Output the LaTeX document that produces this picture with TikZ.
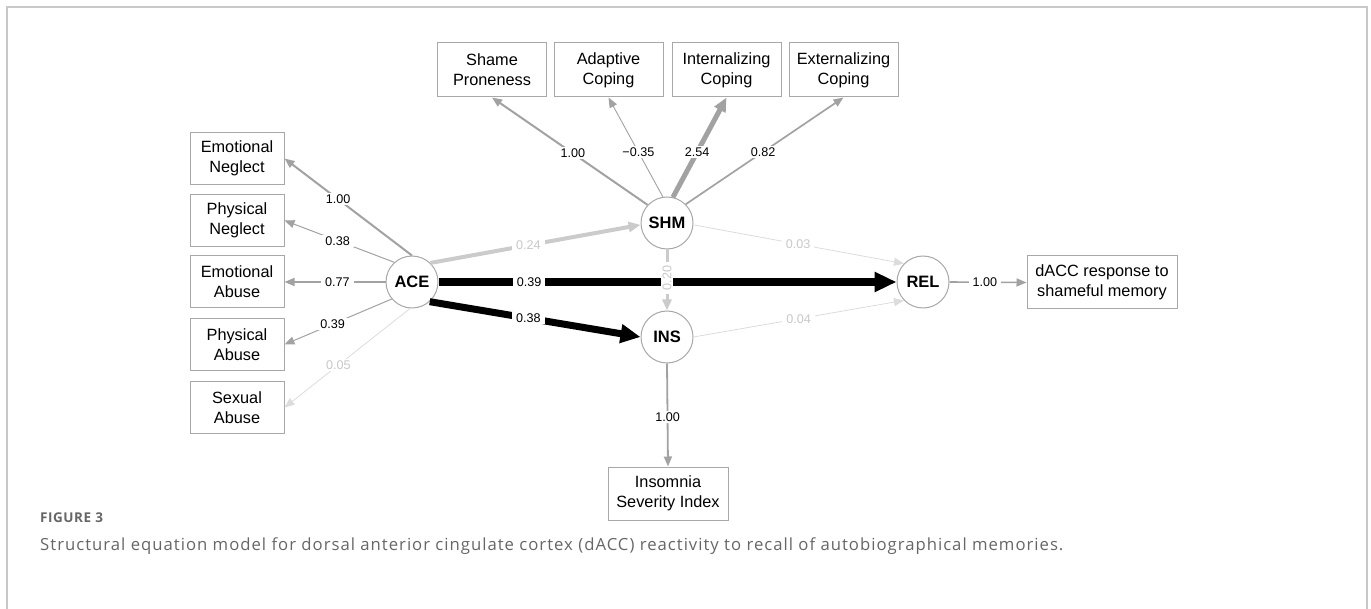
\documentclass[tikz,border=0pt]{standalone}
\usepackage{fontspec}
\setmainfont{Liberation Sans}
\newfontfamily\capfont[LetterSpace=6]{Open Sans}
\newfontfamily\figfont[LetterSpace=4]{Open Sans}
\usetikzlibrary{arrows.meta}
\definecolor{boxgray}{HTML}{A8A8A8}
\definecolor{edgegray}{HTML}{A2A2A2}
\definecolor{edgelight}{HTML}{CBCBCB}
\definecolor{edgefaint}{HTML}{DCDCDC}
\definecolor{lblfaint}{HTML}{C8C8C8}
\definecolor{framegray}{HTML}{C8C8C8}
\definecolor{capgray}{HTML}{666666}
\begin{document}
\begin{tikzpicture}[x=1pt,y=-1pt,
  box/.style={draw=boxgray, line width=1pt, fill=white, align=center, inner sep=0pt,
    font=\fontsize{16.3}{20}\selectfont},
  topbox/.style={box, minimum width=109pt, minimum height=54pt},
  leftbox/.style={box, minimum width=94pt, minimum height=52pt},
  lat/.style={circle, draw=boxgray, line width=1pt, fill=white, minimum size=52pt, inner sep=0pt,
    font=\fontsize{16.5}{18}\selectfont\bfseries},
  lbl/.style={fill=white, text=black, inner xsep=4pt, inner ysep=1.5pt, font=\fontsize{12.6}{13}\selectfont},
  flbl/.style={lbl, text=lblfaint},
  tipA/.style={-{Triangle[length=10pt,width=8pt]}},
  tipB/.style={-{Triangle[length=14pt,width=12pt]}},
  tipC/.style={-{Triangle[length=22pt,width=19pt]}},
]
\useasboundingbox (0,0) rectangle (1371,609);
\draw[framegray, line width=1.5pt] (7,609) -- (7,7) -- (1367,7) -- (1367,609);

% latent variables
\node[lat] (ACE) at (412,282) {ACE};
\node[lat] (SHM) at (667,223) {SHM};
\node[lat] (INS) at (667,337) {INS};
\node[lat] (REL) at (923,282) {REL};

% indicators
\node[topbox] (SP) at (492,70) {Shame\\Proneness};
\node[topbox] (AC) at (608.5,70) {Adaptive\\Coping};
\node[topbox] (IC) at (726.5,70) {Internalizing\\Coping};
\node[topbox] (EC) at (843.5,70) {Externalizing\\Coping};

\node[leftbox] (EN) at (237,158.5) {Emotional\\Neglect};
\node[leftbox] (PN) at (237,220.5) {Physical\\Neglect};
\node[leftbox] (EA) at (237,282) {Emotional\\Abuse};
\node[leftbox] (PA) at (237,344.5) {Physical\\Abuse};
\node[leftbox] (SA) at (237,407.5) {Sexual\\Abuse};

\node[box, minimum width=150pt, minimum height=53pt] (DA) at (1102,282.5) {dACC response to\\shameful memory};
\node[box, minimum width=120pt, minimum height=53pt] (ISI) at (668,493.5) {Insomnia\\Severity Index};

% ACE loadings
\draw[edgegray, line width=2pt, tipA] (ACE.90) -- node[lbl,pos=0.58]{1.00} (EN.east);
\draw[edgegray, line width=1pt, tipA] (ACE.132) -- node[lbl,pos=0.515]{0.38} (PN.east);
\draw[edgegray, line width=1.6pt, tipA] (ACE.180) -- node[lbl,pos=0.476]{0.77} (EA.east);
\draw[edgegray, line width=1pt, tipA] (ACE.220) -- node[lbl,pos=0.55]{0.39} (PA.east);
\draw[edgefaint, line width=0.8pt, tipA] (ACE.266) -- node[flbl,pos=0.572]{0.05} (SA.east);

% SHM loadings
\draw[edgegray, line width=2pt, tipA] (SHM.137) -- node[lbl,pos=0.48]{1.00} (SP.south);
\draw[edgegray, line width=0.9pt, tipA] (SHM.99) -- node[lbl,pos=0.45]{−0.35} (AC.south);
\draw[edgegray, line width=5pt, tipB] (SHM.77) -- node[lbl,pos=0.45]{2.54} (IC.south);
\draw[edgegray, line width=1.7pt, tipA] (SHM.45) -- node[lbl,pos=0.49]{0.82} (EC.south);

% structural paths
\draw[edgelight, line width=4pt, -{Triangle[length=12pt,width=10pt]}] (ACE.46) -- node[flbl,pos=0.466]{0.24} (SHM.184);
\draw[black, line width=8pt, tipC] (ACE.east) -- node[lbl,pos=0.198]{0.39} (REL.west);
\draw[black, line width=7pt, -{Triangle[length=20pt,width=18pt]}] (ACE.312) -- node[lbl,pos=0.468]{0.38} (INS.west);
\draw[edgelight, line width=3pt, -{Triangle[length=11pt,width=9pt]}] (SHM.south) -- node[flbl,pos=0.47,rotate=90]{0.20} (INS.north);
\draw[edgefaint, line width=0.8pt, tipA] (SHM.356) -- node[flbl,pos=0.497]{0.03} (REL.136);
\draw[edgefaint, line width=0.8pt, tipA] (INS.0) -- node[flbl,pos=0.5]{0.04} (REL.224);

% outcome indicators
\draw[edgegray, line width=1.6pt, tipA] (REL.east) -- node[lbl,pos=0.46]{1.00} (DA.west);
\draw[edgegray, line width=1.8pt, tipA] (INS.south) -- node[lbl,pos=0.52]{1.00} (ISI.north);

% caption
\node[anchor=west, inner sep=0pt, text=capgray, font=\figfont\fontsize{13.5}{15}\selectfont\bfseries] (FIG) at (40,518) {FIGURE 3};
\node[anchor=west, inner sep=0pt, text=capgray, font=\capfont\fontsize{16.7}{18}\selectfont] (CAP) at (40,546) {Structural equation model for dorsal anterior cingulate cortex (dACC) reactivity to recall of autobiographical memories.};
\end{tikzpicture}
\end{document}
